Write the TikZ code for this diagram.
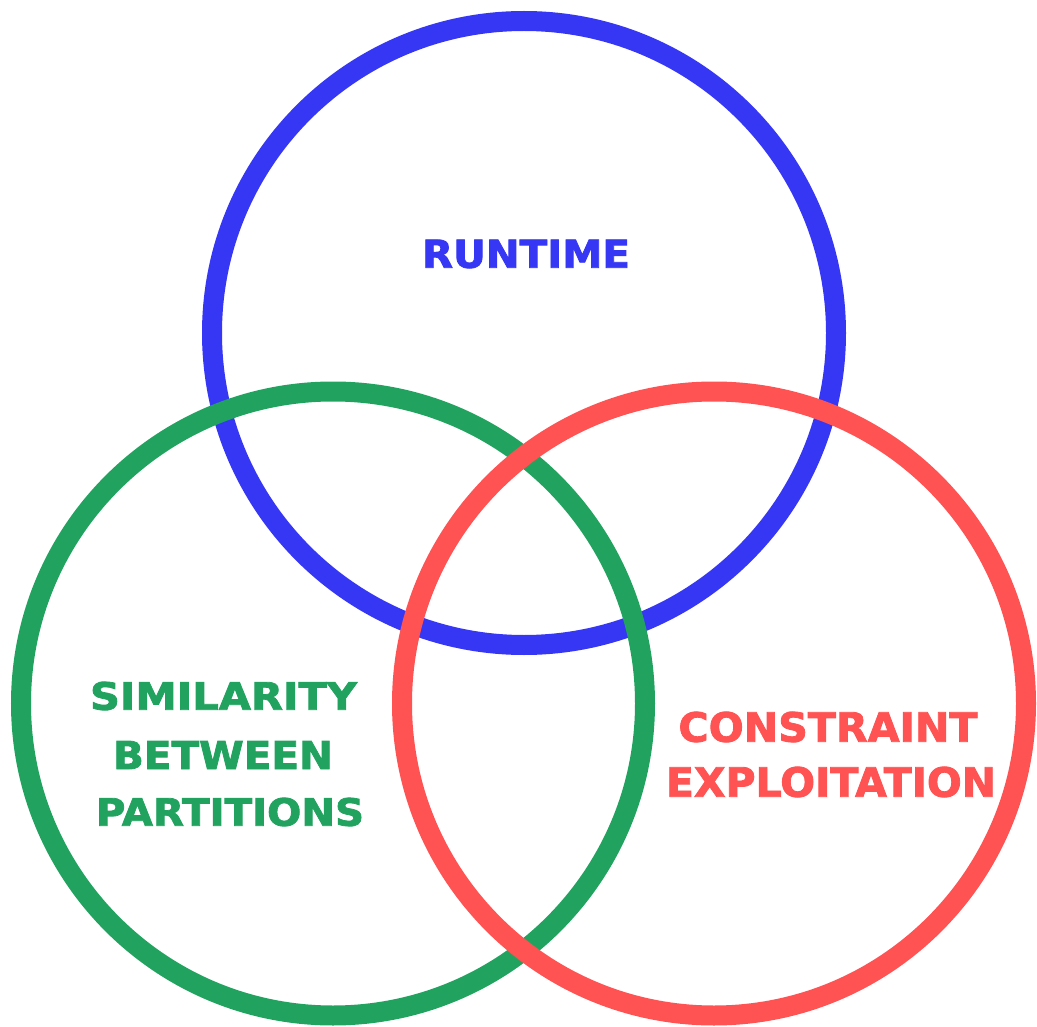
\documentclass[tikz,border=0pt]{standalone}
\usepackage{fontspec}
\usepackage{graphicx}
\newfontfamily\lblfont{DejaVu Sans Bold}[FakeBold=2]
\definecolor{vblue}{RGB}{54,54,245}
\definecolor{vgreen}{RGB}{33,163,95}
\definecolor{vred}{RGB}{255,82,82}
\newcommand{\lbltxt}[3]{\resizebox{#1pt}{#2pt}{\lblfont #3}}
\begin{document}
\begin{tikzpicture}[x=1pt,y=-1pt,
  ring/.style={circle,draw=#1,line width=20pt,minimum size=624pt,inner sep=0pt,outer sep=0pt},
  lbl/.style={inner sep=0pt,outer sep=0pt,text=#1,anchor=center}]
\useasboundingbox (0,0) rectangle (1037,1027);
\node[ring=vblue] (runtimering) at (524,333) {};
\node[ring=vgreen] (simring) at (333,703.5) {};
\node[ring=vred] (consring) at (714,703.5) {};
\node[lbl=vblue] (runtime) at (526,254) {\lbltxt{208}{28}{RUNTIME}};
\node[lbl=vgreen] (sim1) at (223.5,696) {\lbltxt{267}{28}{SIMILARITY}};
\node[lbl=vgreen] (sim2) at (223,755) {\lbltxt{220}{28}{BETWEEN}};
\node[lbl=vgreen] (sim3) at (230,812) {\lbltxt{268}{28}{PARTITIONS}};
\node[lbl=vred] (cons1) at (828,727) {\lbltxt{299}{30}{CONSTRAINT}};
\node[lbl=vred] (cons2) at (831,782) {\lbltxt{330}{30}{EXPLOITATION}};
\end{tikzpicture}
\end{document}
